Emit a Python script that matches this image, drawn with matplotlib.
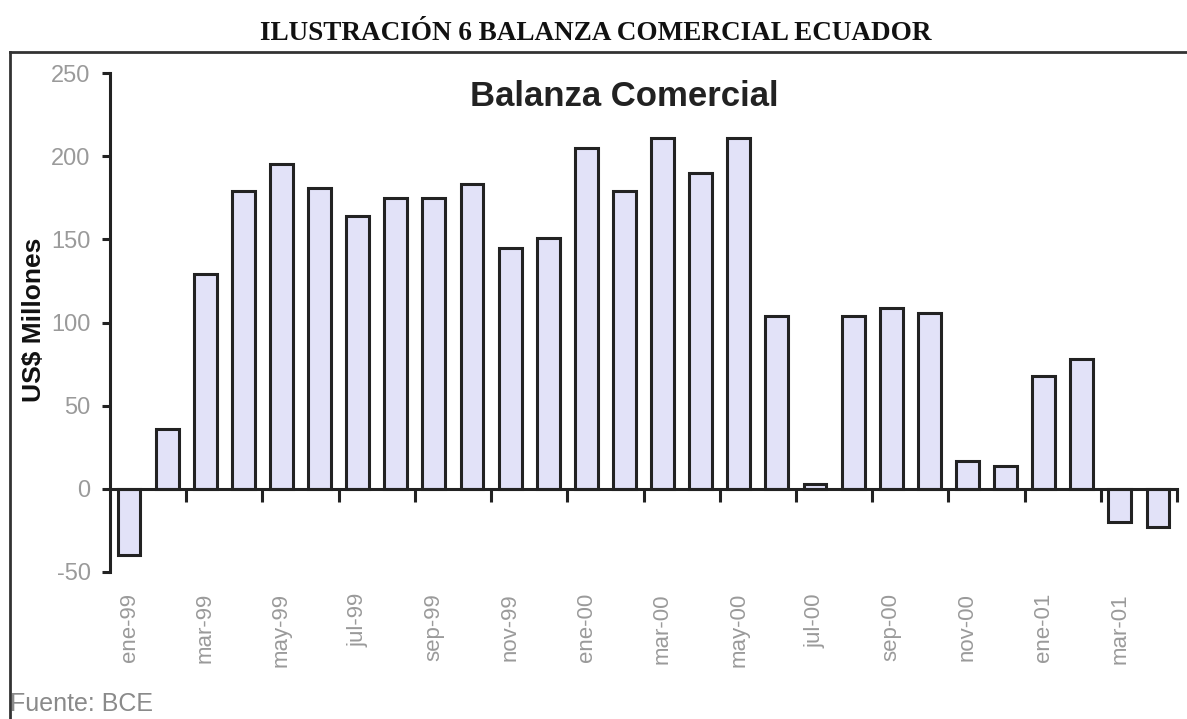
"""Balanza comercial Ecuador, ene-99 a abr-01 (BCE)."""

import matplotlib
matplotlib.use("Agg")
import matplotlib.pyplot as plt
import numpy as np
from matplotlib.lines import Line2D

months = [
    "ene-99", "feb-99", "mar-99", "abr-99", "may-99", "jun-99", "jul-99",
    "ago-99", "sep-99", "oct-99", "nov-99", "dic-99",
    "ene-00", "feb-00", "mar-00", "abr-00", "may-00", "jun-00", "jul-00",
    "ago-00", "sep-00", "oct-00", "nov-00", "dic-00",
    "ene-01", "feb-01", "mar-01", "abr-01",
]
balance = [
    -40, 36, 129, 179, 195, 181, 164, 175, 175, 183, 145, 151,
    205, 179, 211, 190, 211, 104, 3, 104, 109, 106, 17, 14,
    68, 78, -20, -23,
]
yticks = [-50, 0, 50, 100, 150, 200, 250]

W, H = 1187, 719
plt.rcParams["font.family"] = ["Liberation Sans", "DejaVu Sans"]


def fx(px):
    return px / W


def fy(py):
    return 1 - py / H


fig = plt.figure(figsize=(W / 100, H / 100), dpi=100)
ax = fig.add_axes([fx(110), fy(572), fx(1177) - fx(110), fy(73) - fy(572)])

x = np.arange(len(balance)) + 0.5
ax.bar(x, balance, width=0.6, color="#e2e2f8", edgecolor="#222222",
       linewidth=2.2, zorder=2)

ax.set_xlim(0, len(balance))
ax.set_ylim(-50, 250)

for side in ("top", "right"):
    ax.spines[side].set_visible(False)
ax.spines["bottom"].set_position(("data", 0))
ax.spines["bottom"].set_zorder(3)
for side in ("left", "bottom"):
    ax.spines[side].set_linewidth(2.2)
    ax.spines[side].set_color("#222222")

ax.set_yticks(yticks)
ax.set_yticklabels([str(v) for v in yticks])
ax.tick_params(axis="y", direction="out", length=6, width=2.2,
               color="#222222", labelsize=17, labelcolor="#9a9a9a", pad=8)

ax.set_xticks(np.arange(2, len(balance) + 1, 2))
ax.set_xticklabels([])
ax.tick_params(axis="x", which="major", direction="out", length=9,
               width=2.2, color="#222222")
ax.set_xticks(x[::2], minor=True)
ax.set_xticklabels(months[::2], minor=True, rotation=90)
ax.tick_params(axis="x", which="minor", length=0, labelsize=16,
               labelcolor="#9a9a9a", pad=75)

fig.text(fx(34), fy(320), "US$ Millones", rotation=90, ha="center",
         va="center", fontsize=19, fontweight="bold", color="#111111")
fig.text(fx(624), fy(96), "Balanza Comercial", ha="center", va="center",
         fontsize=25, fontweight="bold", color="#222222")
fig.text(fx(596), fy(33), "ILUSTRACIÓN 6 BALANZA COMERCIAL ECUADOR",
         ha="center", va="center", fontsize=19.5, fontweight="bold",
         family=["Liberation Serif", "DejaVu Serif"], color="#111111")
fig.text(fx(10), fy(704), "Fuente: BCE", ha="left", va="center",
         fontsize=18, color="#8a8a8a")

# marco de la ilustración
frame = dict(color="#333333", linewidth=2, transform=fig.transFigure)
fig.add_artist(Line2D([fx(10), fx(10)], [fy(52), fy(719)], **frame))
fig.add_artist(Line2D([fx(10), 1], [fy(52), fy(52)], **frame))

fig.savefig("out.png", dpi=100)
